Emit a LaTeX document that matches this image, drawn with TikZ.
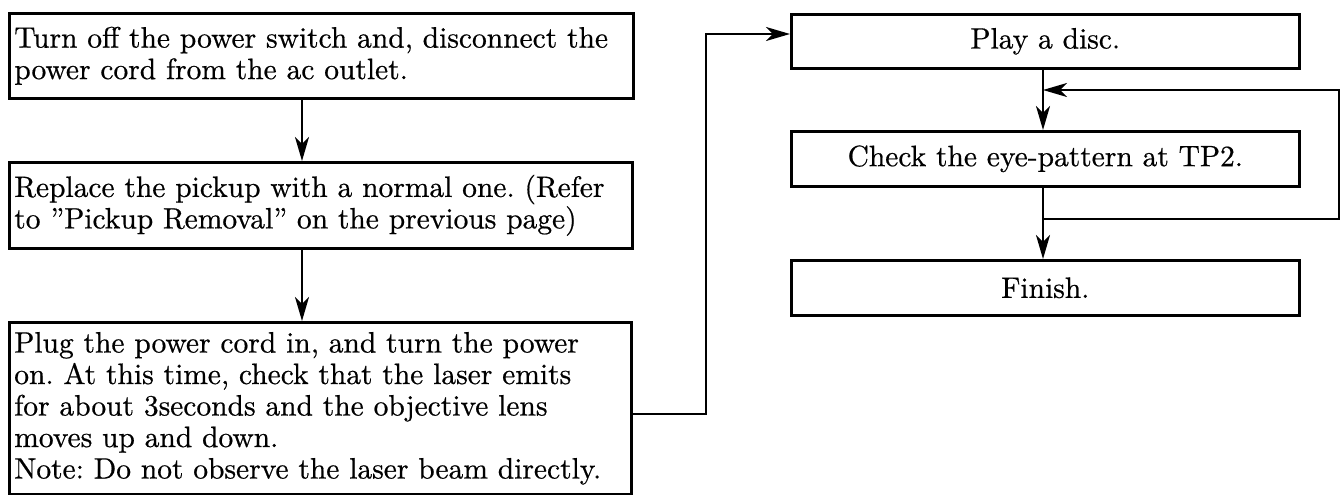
\documentclass[tikz,border=0pt]{standalone}
\usepackage{fontspec}
\newfontfamily\boxfont{lmroman10-regular.otf}[FakeBold=0.6]
\usetikzlibrary{arrows.meta}
\hyphenpenalty=10000
\frenchspacing
\begin{document}
\begin{tikzpicture}[x=1pt,y=-1pt,
  box/.style={draw, line width=2.6pt, rectangle, inner sep=0pt, anchor=north west,
    font=\boxfont\fontsize{29.5}{31.5}\selectfont},
  lbox/.style={box, align=left},
  cbox/.style={box, align=center},
  conn/.style={line width=2.6pt, -{Stealth[length=24pt,width=14pt,inset=7pt]}}]
\useasboundingbox (0,0) rectangle (1342,495);
% left column
\node[lbox, minimum width=624pt, minimum height=85pt, text width=614pt] (b1) at (8,12)
  {Turn off the power switch and, disconnect the\\power cord from the ac outlet.};
\node[lbox, minimum width=623pt, minimum height=86pt, text width=613pt] (b2) at (8,161)
  {Replace the pickup with a normal one. (Refer\\to ”Pickup Removal” on the previous page)};
\node[lbox, minimum width=622pt, minimum height=172pt, text width=612pt] (b3) at (8,321)
  {Plug the power cord in, and turn the power\\on. At this time, check that the laser emits\\for about 3seconds and the objective lens\\moves up and down.\\Note: Do not observe the laser beam directly.};
% right column
\node[cbox, minimum width=508pt, minimum height=54pt] (play) at (790,13) {Play a disc.};
\node[cbox, minimum width=508pt, minimum height=55pt] (check) at (790,130) {Check the eye-pattern at TP2.};
\node[cbox, minimum width=508pt, minimum height=55pt] (finish) at (790,259) {Finish.};
% connectors
\coordinate (lx) at (302,0);
\draw[conn] (b1.south -| lx) -- (b2.north -| lx);
\draw[conn] (b2.south -| lx) -- (b3.north -| lx);
\coordinate (c0) at (b3.east |- 0,414);
\coordinate (c1) at (706,414);
\coordinate (c2) at (706,34);
\draw[conn] (c0) -- (c1) -- (c2) -- (c2 -| play.west);
\coordinate (rx) at (1043,0);
\draw[conn] (play.south -| rx) -- (check.north -| rx);
\draw[conn] (check.south -| rx) -- (finish.north -| rx);
\coordinate (j) at (1043,219);
\coordinate (r1) at (1339,219);
\coordinate (r2) at (1339,90);
\coordinate (m) at (1043,90);
\draw[conn] (j) -- (r1) -- (r2) -- (m);
\end{tikzpicture}
\end{document}
